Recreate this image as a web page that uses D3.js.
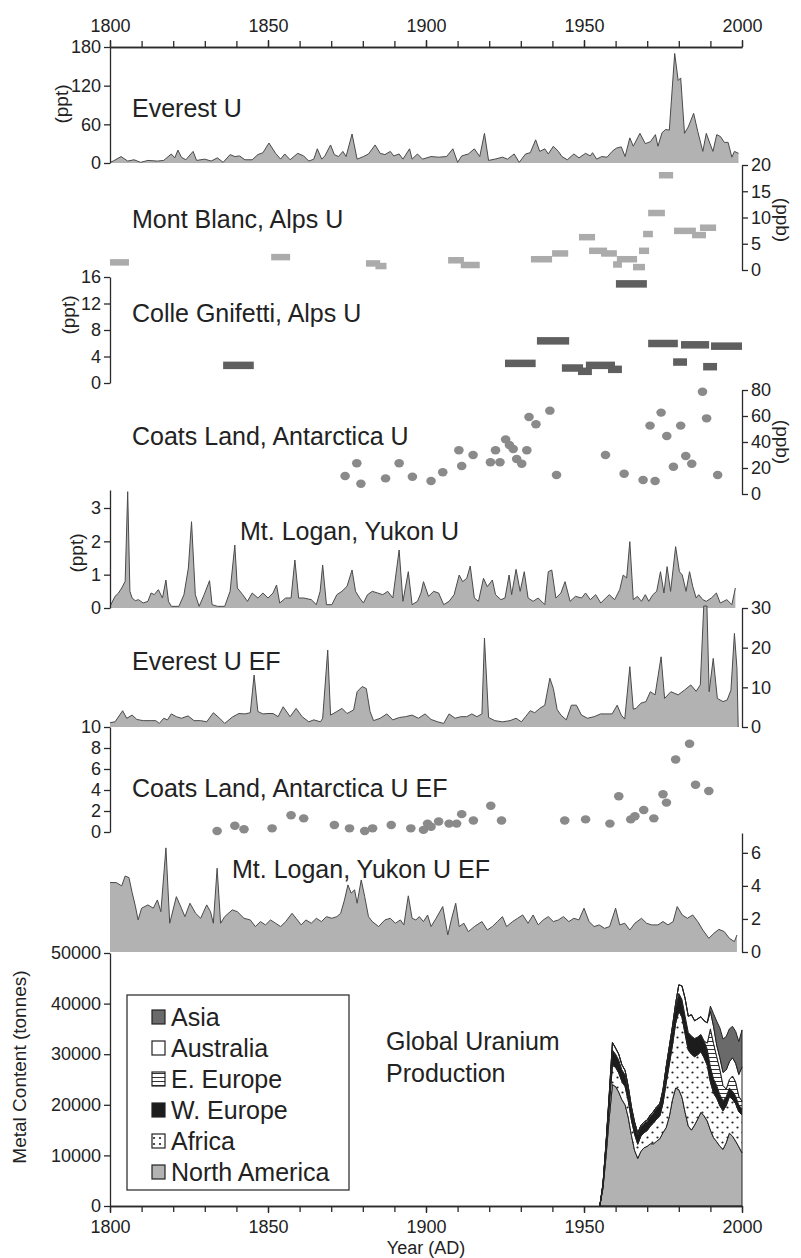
<!DOCTYPE html>
<html><head><meta charset="utf-8">
<script src="https://cdn.jsdelivr.net/npm/d3@7"></script>
<style>
body{margin:0;background:#fff;}
svg{display:block;font-family:"Liberation Sans",Arial,Helvetica,sans-serif;}
</style></head><body>
<svg id="c" width="801" height="1258"></svg>
<script>
// ---------- DATA ----------
const yearTicksMajor = [1800, 1850, 1900, 1950, 2000];

// Everest U (ppt)  [year, value]
const everestU = [[1800,1],[1801,3],[1803.5,10],[1805.6,3],[1807.6,5],[1809.7,1],[1812,4],[1815,3],[1817,4],[1819.4,14],[1820.5,8],[1821.5,20],[1822.6,9],[1824,5],[1826.3,18],[1827.4,4],[1830,6],[1832,3],[1834,8],[1835.8,1],[1838,13],[1839.5,10],[1841,11],[1842.7,5],[1845,5],[1846.8,13],[1848.4,16],[1850.3,31],[1852.4,15],[1854,6],[1855.3,14],[1857,5],[1859.4,15],[1861.3,11],[1862.9,3],[1864.5,6],[1865.6,22],[1867,6],[1868,11],[1869.8,28],[1871,13],[1872.3,10],[1873.7,18],[1874.7,10],[1876.6,45],[1878.2,6],[1880.2,10],[1881.8,14],[1883.9,28],[1885.5,15],[1887,13],[1888.7,18],[1889.8,11],[1891.5,14],[1892.7,6],[1894.8,22],[1895.6,6],[1897.3,14],[1898.9,6],[1901.6,10],[1904,9],[1906.5,10],[1908.5,22],[1910,1],[1911.3,11],[1913.4,14],[1915.3,22],[1917,10],[1918.5,46],[1919.8,4],[1921.8,6],[1924.2,9],[1925.8,6],[1927.9,14],[1929.5,1],[1931.5,14],[1933,16],[1934.7,36],[1936,18],[1937.6,22],[1938.7,14],[1940.3,26],[1941.9,18],[1943,10],[1944.7,5],[1946.8,14],[1948.4,8],[1950.5,15],[1952,11],[1952.7,16],[1954,6],[1955.6,10],[1957.3,9],[1958.9,18],[1960.2,23],[1961.8,25],[1963,10],[1964.5,39],[1965.6,26],[1967.7,46],[1969.4,30],[1971,33],[1972.6,44],[1973.4,26],[1974.7,47],[1975.8,52],[1977,51],[1978.7,170],[1979.8,128],[1980.6,132],[1981.8,46],[1983,56],[1984.7,77],[1986,49],[1987.6,18],[1988.7,46],[1989.8,31],[1990.8,18],[1992,44],[1993.2,41],[1994.4,32],[1995.6,32],[1996.8,9],[1997.6,18],[1998.9,15]];

// Mont Blanc U (ppb)  [start, end, value]
const montBlanc = [[1800,1806,1.5],[1851,1857,2.5],[1881,1885.5,1.3],[1884,1887.5,0.8],[1907,1912,1.9],[1911,1917,1.0],[1933.2,1939.9,2.1],[1939.9,1945,3.2],[1948.4,1953.5,6.3],[1951.6,1957.3,3.7],[1955.4,1960.4,3.2],[1960.4,1966.8,2.1],[1959.2,1962,1.1],[1965.5,1969.3,0.6],[1967.4,1970.6,3.7],[1968.7,1971.8,6.9],[1970.3,1975.6,10.9],[1973.7,1978.2,18.1],[1978.5,1985.4,7.5],[1984.2,1988.6,6.7],[1986.7,1991.8,8.1]];

// Colle Gnifetti U (ppt)  [start, end, value]
const colleGnifetti = [[1835.8,1845.5,2.7],[1925,1934.7,3.0],[1935.1,1945.3,6.4],[1943,1949.7,2.3],[1948.1,1952.5,1.8],[1950.6,1959.8,2.7],[1957.6,1962,2.1],[1960.1,1969.9,15.0],[1970.3,1979.7,6.0],[1980.7,1989.6,5.8],[1990.2,2000,5.6],[1978.2,1982.6,3.2],[1987.7,1992.1,2.5]];

// Coats Land U (ppb)  [year, value]
const coatsU = [[1874.4,13.8],[1878.1,23.6],[1879.4,7.9],[1887.2,12],[1891.5,23.6],[1895.7,13.3],[1901.6,10],[1905.3,16.7],[1910.4,33.6],[1911.3,21.5],[1914.9,30],[1920.4,24.4],[1923.4,24.4],[1922,33.6],[1925.2,42],[1926.4,37.7],[1927.6,34.6],[1931.9,33.6],[1928.7,26.9],[1930.3,23.3],[1932.6,59.2],[1934.8,53.6],[1939.2,64.1],[1941.3,14.6],[1956.8,30],[1962.7,15.6],[1968.7,10.8],[1972.5,10],[1970.9,52.6],[1974.4,62.6],[1976.2,44.6],[1978.3,21],[1980.6,52.6],[1982.2,29.2],[1984.1,23.3],[1987.5,78.7],[1988.8,58.2],[1992.3,14.6]];

// Mt. Logan U (ppt)  [year, value]
const loganU = [[1800,0.05],[1801.6,0.35],[1802.7,0.45],[1803.7,0.6],[1804.8,0.8],[1805.6,3.49],[1806.3,0.5],[1807,0.3],[1808,0.22],[1809,0.25],[1810.5,0.15],[1812,0.2],[1813,0.45],[1814,0.4],[1815.3,0.55],[1816.6,0.3],[1817.7,0.84],[1818.5,0.2],[1819.4,0.05],[1821.8,0.05],[1823.4,0.4],[1824.8,1.2],[1825.8,2.59],[1827,0.4],[1828.2,0.05],[1829.8,0.4],[1831.5,0.82],[1832.3,0.1],[1834,0.05],[1836.3,0.05],[1838,0.5],[1839.5,1.89],[1840.3,0.6],[1842,0.4],[1843.5,0.2],[1845,0.45],[1846.8,0.3],[1848.4,0.45],[1850,0.3],[1851.6,0.45],[1852.7,0.69],[1853.7,0.15],[1855.6,0.3],[1857.3,0.3],[1858.5,1.44],[1859.7,0.3],[1861.3,0.3],[1863.7,0.25],[1865.3,0.1],[1866.5,0.5],[1867.3,1.29],[1868.5,0.1],[1870.2,0.1],[1871.8,0.4],[1873.4,0.5],[1875,0.65],[1876.6,1.14],[1877.7,0.5],[1879,0.3],[1880.2,0.15],[1881.5,0.4],[1883,0.5],[1884.7,0.45],[1886.3,0.4],[1887.9,0.5],[1889.5,0.3],[1891.5,1.74],[1892.7,0.2],[1894.4,1.09],[1895.6,0.1],[1897.3,0.2],[1898.4,0.45],[1899.2,0.79],[1900.8,0.35],[1902.4,0.5],[1904,0.45],[1905.6,0.1],[1907.3,0.2],[1908.9,0.4],[1910.5,0.99],[1911.6,0.79],[1912.9,0.89],[1914,1.26],[1915.3,0.3],[1916.6,0.2],[1918.2,0.89],[1919.4,0.64],[1921,0.84],[1922,0.4],[1923.7,0.25],[1925,0.3],[1926.3,0.99],[1927.1,0.4],[1928.5,1.16],[1929.8,0.5],[1931.1,1.09],[1932.3,0.3],[1933.9,0.2],[1935.5,0.3],[1937.6,0.1],[1938.7,1.09],[1939.8,1.14],[1941.1,0.3],[1942.7,0.45],[1944,0.79],[1945.6,0.2],[1947.3,0.35],[1949.2,0.3],[1950.5,0.45],[1952,0.25],[1953.7,0.4],[1955.3,0.15],[1956.9,0.3],[1958,0.4],[1959.7,0.25],[1961.3,0.55],[1962.4,0.99],[1963.5,0.9],[1964.5,1.99],[1965.6,0.25],[1966.9,0.35],[1968.2,0.2],[1969.4,0.4],[1970.5,0.2],[1971.8,0.4],[1973,0.5],[1974.2,1.09],[1975.3,0.45],[1976.3,1.24],[1977.4,0.5],[1979,1.84],[1980.2,1.09],[1981.1,0.99],[1982.3,0.5],[1983.4,1.09],[1984.4,0.65],[1985.5,0.3],[1986.3,0.4],[1987.6,0.25],[1988.7,0.2],[1990.3,0.3],[1991.9,0.45],[1993.1,0.15],[1995.2,0.25],[1996.8,0.1],[1997.9,0.6]];

// Everest U EF  [year, value]
const everestEF = [[1800,1.1],[1801.6,1.3],[1804,4.1],[1805.3,2.2],[1807,3],[1808.5,1.9],[1810.5,1.6],[1813,1.6],[1814.5,1.6],[1815.6,0.9],[1817,2.2],[1818.2,1.8],[1819.4,3.3],[1821,2.6],[1822.6,2.2],[1824.7,2.8],[1826.6,1.6],[1828.7,1.6],[1830.6,1.3],[1832.7,3.6],[1834.7,2.2],[1836.3,0.9],[1838.7,2.5],[1840.8,3.4],[1842.7,3.3],[1844.4,3.6],[1845.6,13.1],[1846.8,3.9],[1848.4,3.3],[1850,3.4],[1851.6,3.4],[1853.2,2.6],[1854.8,5.1],[1857,2.6],[1858.9,4.7],[1860.8,2.6],[1862.9,1.3],[1864.5,1.8],[1866.6,1.3],[1867.3,2.2],[1868.9,19.4],[1869.8,3],[1871.8,3.9],[1873.4,4.7],[1875,3.4],[1877.1,4.3],[1878.2,8.9],[1879.8,10.2],[1881.1,9.7],[1882.3,3.9],[1883.4,1.6],[1885.5,2.2],[1887.6,3.3],[1889.5,1.8],[1891.6,2.4],[1893.5,2.6],[1895.6,3],[1897.6,2.2],[1899.7,3.3],[1901.6,1.9],[1903.7,1.3],[1905.6,0.9],[1907.3,3.3],[1909.2,2.2],[1911,2.6],[1912.9,2.6],[1914.5,3.3],[1916.1,2.6],[1917.7,3.3],[1918.5,22.4],[1919.8,2.4],[1921.8,1.6],[1924.2,1.3],[1926.6,1.6],[1928.5,2.2],[1930.2,1.3],[1931.5,2.6],[1933,4.1],[1934.4,3.6],[1936,4.7],[1937.6,5.5],[1939.2,12.3],[1940.3,9.7],[1941.5,4.4],[1942.7,3],[1944.4,1.8],[1946,5.5],[1947.6,5.5],[1949.2,3],[1951.1,2.2],[1953.2,2.6],[1955.3,3.3],[1957.3,3.3],[1958.9,3.3],[1960.5,5.5],[1961.8,3],[1962.9,2],[1964.5,15.2],[1965.6,4.5],[1966.5,4.7],[1968,6],[1969.6,6.4],[1971,8.9],[1972.5,8.1],[1974.4,17.7],[1975.5,7.2],[1977.5,8.9],[1979.8,8.1],[1981.8,9.3],[1983.8,10.6],[1985.5,9],[1986.8,10.6],[1987.9,30.5],[1988.9,30.5],[1989.6,8.9],[1990.9,17.3],[1992.2,7.2],[1994,6.4],[1995.3,6.8],[1996.5,9.3],[1997.6,23.6],[1998.4,14.8],[1998.8,0]];

// Coats Land U EF  [year, value]
const coatsEF = [[1833.9,0.1],[1839.5,0.6],[1842.4,0.26],[1851.3,0.35],[1857.3,1.6],[1861.3,1.3],[1871,0.67],[1875.8,0.35],[1880.6,0.1],[1883.1,0.35],[1889,0.67],[1895.2,0.35],[1899.2,0.2],[1900.5,0.8],[1901.6,0.5],[1904,1.0],[1907.3,0.8],[1909.7,0.8],[1911.3,1.7],[1915,1.1],[1920.5,2.5],[1923.9,1.1],[1943.9,1.1],[1950.5,1.2],[1958.2,0.8],[1961,3.4],[1964.8,1.2],[1966.1,1.5],[1968.9,2.1],[1972.1,1.3],[1975,3.6],[1976.1,2.8],[1979,6.9],[1983.4,8.4],[1985.3,4.5],[1989.5,3.9]];

// Mt. Logan U EF  [year, value]
const loganEF = [[1800,4.2],[1802,4.2],[1803.7,4.0],[1804.8,4.6],[1806,4.5],[1807,3.6],[1808,2.8],[1808.9,1.94],[1810,2.65],[1812,2.85],[1813.7,2.65],[1815,3.15],[1816.1,2.44],[1817.7,6.3],[1818.9,1.74],[1821,3.35],[1822.6,2.65],[1823.7,2.14],[1825.3,2.95],[1827.1,2.34],[1828.7,2.04],[1830.6,2.85],[1831.8,2.44],[1832.7,1.74],[1833.9,5.07],[1835,1.74],[1836.3,2.14],[1838.7,2.55],[1840.3,2.44],[1842.4,2.04],[1844.4,1.94],[1846,1.54],[1847.6,1.84],[1849.2,1.64],[1850.8,1.94],[1852.4,1.74],[1854,1.54],[1855.6,1.84],[1857.6,2.34],[1858.9,2.04],[1860.5,1.64],[1862,1.94],[1863.7,1.74],[1865.3,2.04],[1866.9,1.84],[1868.5,2.14],[1870.2,2.04],[1871.8,2.14],[1873,2.34],[1874.2,3.15],[1875.3,4.06],[1876.3,3.56],[1877.4,3.76],[1878.2,2.95],[1879.5,4.36],[1880.6,3.35],[1881.8,2.14],[1883,1.84],[1885,1.54],[1887,1.94],[1888.7,2.04],[1890.3,1.74],[1891.9,1.94],[1893,1.64],[1894.4,3.4],[1895.6,2.04],[1896.8,1.94],[1897.9,2.14],[1899.2,1.84],[1900.5,2.24],[1901.6,1.54],[1903.2,2.04],[1905.3,2.75],[1906.9,1.03],[1908,1.94],[1909.4,2.95],[1910.5,1.54],[1912,1.74],[1913.4,1.23],[1915.3,1.54],[1917.7,1.84],[1919.4,1.33],[1921,1.54],[1922.6,1.84],[1924.2,2.14],[1925.5,1.54],[1927.4,1.84],[1929,2.04],[1930.6,2.24],[1932.3,1.74],[1933.9,2.24],[1935.5,1.64],[1937.1,1.94],[1938.7,2.14],[1940.3,1.84],[1941.9,1.94],[1943.5,2.14],[1945.2,1.84],[1946.8,2.04],[1948.4,1.94],[1950,2.65],[1951.6,1.84],[1953.2,1.54],[1954.8,1.64],[1956.5,1.43],[1958.1,1.54],[1960,2.65],[1961.3,1.64],[1962.9,1.74],[1964.5,1.33],[1966.1,1.74],[1968.2,2.04],[1969.8,1.74],[1971.4,1.64],[1973.4,1.64],[1975,1.84],[1976.6,1.64],[1978.2,1.84],[1979.5,2.75],[1981.1,2.24],[1982.7,2.04],[1984.4,2.24],[1986,1.84],[1987.6,1.33],[1989.5,0.83],[1991.1,1.13],[1992.7,1.37],[1994.4,1.23],[1996,0.83],[1997.6,0.63],[1998.4,1.03]];

// Global uranium production (tonnes)
const uranYears = d3.range(1955, 2001);
const northAmerica = [0,3500,10000,17500,24000,23600,22500,21000,20000,17500,14000,11000,9400,10800,11500,11800,12300,12300,12800,13300,14500,15500,17700,21000,23300,23000,21500,18500,15800,15000,16000,17200,18500,17800,16800,15000,13500,12700,11800,11200,12500,14400,13800,12800,11700,10500];
const africa = [0,400,1300,2300,3800,3800,3800,3600,3600,3300,3000,3200,2800,3000,3000,3100,3500,4100,4400,4500,5800,8800,10300,10800,12800,15500,15800,15500,15000,15000,13500,12700,12000,11500,11000,9500,8800,8600,8000,7600,7300,7200,7300,7400,6900,7500];
const wEurope = [0,300,1000,1700,3000,2600,2500,2300,2300,2100,2000,1900,1800,1800,1800,1800,1900,2000,2100,2100,2300,2700,2900,3000,3100,3500,3500,3500,3500,3600,3600,3500,3400,3300,3200,3000,2800,2500,2200,2000,1800,1700,1600,1500,1300,1200];
const eEurope = [0,0,0,0,0,0,0,0,0,0,0,0,0,0,0,0,0,0,0,0,0,0,0,0,0,0,0,0,0,0,0,0,0,0,1200,7500,7000,5700,5000,3000,1500,1700,3000,2800,1800,1500];
const australia = [0,100,400,700,1500,1200,1200,1000,900,700,600,500,400,300,300,300,300,300,300,300,400,500,600,700,800,1700,2700,3500,3200,4200,3500,3600,3500,4000,4000,3500,3400,2300,2300,2600,3800,3500,3600,3700,4300,6800];
const asia = [0,0,0,0,0,0,0,0,0,0,0,0,0,0,0,0,0,0,0,0,0,0,0,0,0,0,0,0,0,0,0,0,0,0,0,1000,2500,4700,5900,6600,6600,6500,6200,6300,6500,7300];
const regionKeys = ["North America","Africa","W. Europe","E. Europe","Australia","Asia"];
const legendOrder = ["Asia","Australia","E. Europe","W. Europe","Africa","North America"];

// ---------- DRAWING ----------
const svg = d3.select("#c");
const INK = "#2a2a2a";
const AREA = "#b2b2b2";
const TICKFS = 18;
const x = d3.scaleLinear().domain([1800, 2000]).range([110, 742]);

const defs = svg.append("defs");
const pd = defs.append("pattern").attr("id","dots").attr("patternUnits","userSpaceOnUse")
  .attr("width",10).attr("height",10);
pd.append("rect").attr("width",10).attr("height",10).attr("fill","#fff");
pd.append("circle").attr("cx",2.5).attr("cy",2.5).attr("r",1.1).attr("fill","#222");
pd.append("circle").attr("cx",7.5).attr("cy",7.5).attr("r",1.1).attr("fill","#222");
const ph = defs.append("pattern").attr("id","hlines").attr("patternUnits","userSpaceOnUse")
  .attr("width",6).attr("height",4);
ph.append("rect").attr("width",6).attr("height",4).attr("fill","#fff");
ph.append("line").attr("x1",0).attr("x2",6).attr("y1",1.5).attr("y2",1.5).attr("stroke","#333").attr("stroke-width",1);
const pl = defs.append("pattern").attr("id","dotsLegend").attr("patternUnits","userSpaceOnUse")
  .attr("width",6).attr("height",6).attr("x",1).attr("y",1);
pl.append("rect").attr("width",6).attr("height",6).attr("fill","#fff");
pl.append("circle").attr("cx",3).attr("cy",3).attr("r",1.1).attr("fill","#222");

function styleAxis(g) {
  g.selectAll(".domain").attr("stroke", INK).attr("stroke-width", 1.3);
  g.selectAll(".tick line").attr("stroke", INK).attr("stroke-width", 1.3);
  g.selectAll(".tick text").attr("fill", "#222").attr("font-size", TICKFS).attr("font-family", null);
}
function leftAxis(scale, vals) {
  const g = svg.append("g").attr("transform", "translate(110,0)")
    .call(d3.axisLeft(scale).tickValues(vals).tickSize(6).tickSizeOuter(0).tickPadding(3).tickFormat(d3.format("d")));
  styleAxis(g);
  return g;
}
function rightAxis(scale, vals) {
  const g = svg.append("g").attr("transform", "translate(742,0)")
    .call(d3.axisRight(scale).tickValues(vals).tickSize(6).tickSizeOuter(0).tickPadding(3).tickFormat(d3.format("d")));
  styleAxis(g);
  return g;
}
function areaSeries(data, y, y0) {
  svg.append("path").datum(data)
    .attr("d", d3.area().x(d => x(d[0])).y0(y0).y1(d => y(d[1])))
    .attr("fill", AREA).attr("stroke", "none");
  svg.append("path").datum(data)
    .attr("d", d3.line().x(d => x(d[0])).y(d => y(d[1])))
    .attr("fill", "none").attr("stroke", "#4a4a4a").attr("stroke-width", 1);
}
function label(txt, xx, yy, fs) {
  svg.append("text").attr("x", xx).attr("y", yy).attr("font-size", fs || 25).attr("fill", "#222").text(txt);
}
function vTitle(txt, xx, yy, rot) {
  svg.append("text").attr("transform", `translate(${xx},${yy}) rotate(${rot})`)
    .attr("text-anchor", "middle").attr("dy", "0.35em").attr("font-size", 19).attr("fill", "#222").text(txt);
}

// Top year axis
const topMinor = d3.range(1800, 2001, 10);
const gTopMinor = svg.append("g").attr("transform", "translate(0,47)")
  .call(d3.axisTop(x).tickValues(topMinor).tickSize(6).tickSizeOuter(0).tickFormat(""));
styleAxis(gTopMinor);
const gTop = svg.append("g").attr("transform", "translate(0,47)")
  .call(d3.axisTop(x).tickValues(yearTicksMajor).tickSize(7).tickSizeOuter(0).tickPadding(8).tickFormat(d3.format("d")));
styleAxis(gTop);

// 1. Everest U
const yEv = d3.scaleLinear().domain([0, 180]).range([163, 47]);
areaSeries(everestU, yEv, yEv(0));
leftAxis(yEv, [0, 60, 120, 180]);
vTitle("(ppt)", 61, 104, -90);
label("Everest U", 132, 117);

// 2. Mont Blanc
const yMB = d3.scaleLinear().domain([0, 20]).range([270, 165]);
svg.append("g").selectAll("rect").data(montBlanc).join("rect")
  .attr("x", d => x(d[0])).attr("width", d => x(d[1]) - x(d[0]))
  .attr("y", d => yMB(d[2]) - 3).attr("height", 6.5).attr("fill", "#ababab");
rightAxis(yMB, [0, 5, 10, 15, 20]);
vTitle("(ppb)", 783, 220, 90);
label("Mont Blanc, Alps U", 132, 228);

// 3. Colle Gnifetti
const yCG = d3.scaleLinear().domain([0, 16]).range([383, 277]);
svg.append("g").selectAll("rect").data(colleGnifetti).join("rect")
  .attr("x", d => x(d[0])).attr("width", d => x(d[1]) - x(d[0]))
  .attr("y", d => yCG(d[2]) - 3.5).attr("height", 7.5).attr("fill", "#5f5f5f");
leftAxis(yCG, [0, 4, 8, 12, 16]);
vTitle("(ppt)", 68, 315, -90);
label("Colle Gnifetti, Alps U", 132, 322);

// 4. Coats Land U
const yCL = d3.scaleLinear().domain([0, 80]).range([494, 390]);
svg.append("g").selectAll("ellipse").data(coatsU).join("ellipse")
  .attr("cx", d => x(d[0])).attr("cy", d => yCL(d[1])).attr("rx", 4.8).attr("ry", 4.2)
  .attr("fill", "#8a8a8a");
rightAxis(yCL, [0, 20, 40, 60, 80]);
vTitle("(ppb)", 783, 442, 90);
label("Coats Land, Antarctica U", 132, 445);

// 5. Mt. Logan U
const yML = d3.scaleLinear().domain([0, 3.54]).range([608, 490]);
areaSeries(loganU, yML, yML(0));
leftAxis(yML, [0, 1, 2, 3]);
vTitle("(ppt)", 76, 553, -90);
label("Mt. Logan, Yukon U", 240, 540);

// 6. Everest U EF
const yEF = d3.scaleLinear().domain([0, 30]).range([727, 608]);
areaSeries(everestEF, yEF, yEF(0));
rightAxis(yEF, [0, 10, 20, 30]);
label("Everest U EF", 132, 670);

// 7. Coats Land EF
const yCE = d3.scaleLinear().domain([0, 10]).range([832, 727]);
svg.append("g").selectAll("ellipse").data(coatsEF).join("ellipse")
  .attr("cx", d => x(d[0])).attr("cy", d => yCE(d[1])).attr("rx", 4.8).attr("ry", 4.2)
  .attr("fill", "#8a8a8a");
leftAxis(yCE, [0, 2, 4, 6, 8, 10]);
label("Coats Land, Antarctica U EF", 132, 797);

// 8. Mt. Logan EF
const yLE = d3.scaleLinear().domain([0, 7.2]).range([952, 833]);
areaSeries(loganEF, yLE, yLE(0));
rightAxis(yLE, [0, 2, 4, 6]);
label("Mt. Logan, Yukon U EF", 232, 878);

// 9. Global uranium production
const yGU = d3.scaleLinear().domain([0, 50000]).range([1206, 953]);
const rows = uranYears.map((yr, i) => ({
  year: yr, "North America": northAmerica[i], "Africa": africa[i], "W. Europe": wEurope[i],
  "E. Europe": eEurope[i], "Australia": australia[i], "Asia": asia[i]
}));
const stacked = d3.stack().keys(regionKeys)(rows);
const regionFill = {"North America": AREA, "Africa": "url(#dots)", "W. Europe": "#1c1c1c",
  "E. Europe": "url(#hlines)", "Australia": "#ffffff", "Asia": "#6a6a6a"};
const legendFill = Object.assign({}, regionFill, {"Africa": "url(#dotsLegend)"});
svg.append("g").selectAll("path").data(stacked).join("path")
  .attr("d", d3.area().x(d => x(d.data.year)).y0(d => yGU(d[0])).y1(d => yGU(d[1])))
  .attr("fill", s => regionFill[s.key]).attr("stroke", "#222").attr("stroke-width", 1)
  .attr("stroke-linejoin", "round");

leftAxis(yGU, [0, 10000, 20000, 30000, 40000, 50000]);
const gBotMinor = svg.append("g").attr("transform", "translate(0,1206)")
  .call(d3.axisBottom(x).tickValues(topMinor).tickSize(6).tickSizeOuter(0).tickFormat(""));
styleAxis(gBotMinor);
const gBot = svg.append("g").attr("transform", "translate(0,1206)")
  .call(d3.axisBottom(x).tickValues(yearTicksMajor).tickSize(7).tickSizeOuter(0).tickPadding(7).tickFormat(d3.format("d")));
styleAxis(gBot);
svg.append("text").attr("x", 426).attr("y", 1254).attr("text-anchor", "middle")
  .attr("font-size", 18).attr("fill", "#222").text("Year (AD)");
vTitle("Metal Content (tonnes)", 19, 1067, -90);

label("Global Uranium", 386, 1050, 25);
label("Production", 386, 1082, 25);

// Legend
const lg = svg.append("g");
lg.append("rect").attr("x", 127).attr("y", 995).attr("width", 222).attr("height", 195)
  .attr("fill", "#fff").attr("stroke", "#333").attr("stroke-width", 1.3);
const lgY = d3.scalePoint().domain(legendOrder).range([1017, 1172]);
legendOrder.forEach(k => {
  lg.append("rect").attr("x", 152).attr("y", lgY(k) - 7).attr("width", 13).attr("height", 14)
    .attr("fill", legendFill[k]).attr("stroke", "#222").attr("stroke-width", 1.2);
  lg.append("text").attr("x", 171).attr("y", lgY(k) + 9).attr("font-size", 25).attr("fill", "#222").text(k);
});
</script>
</body></html>
